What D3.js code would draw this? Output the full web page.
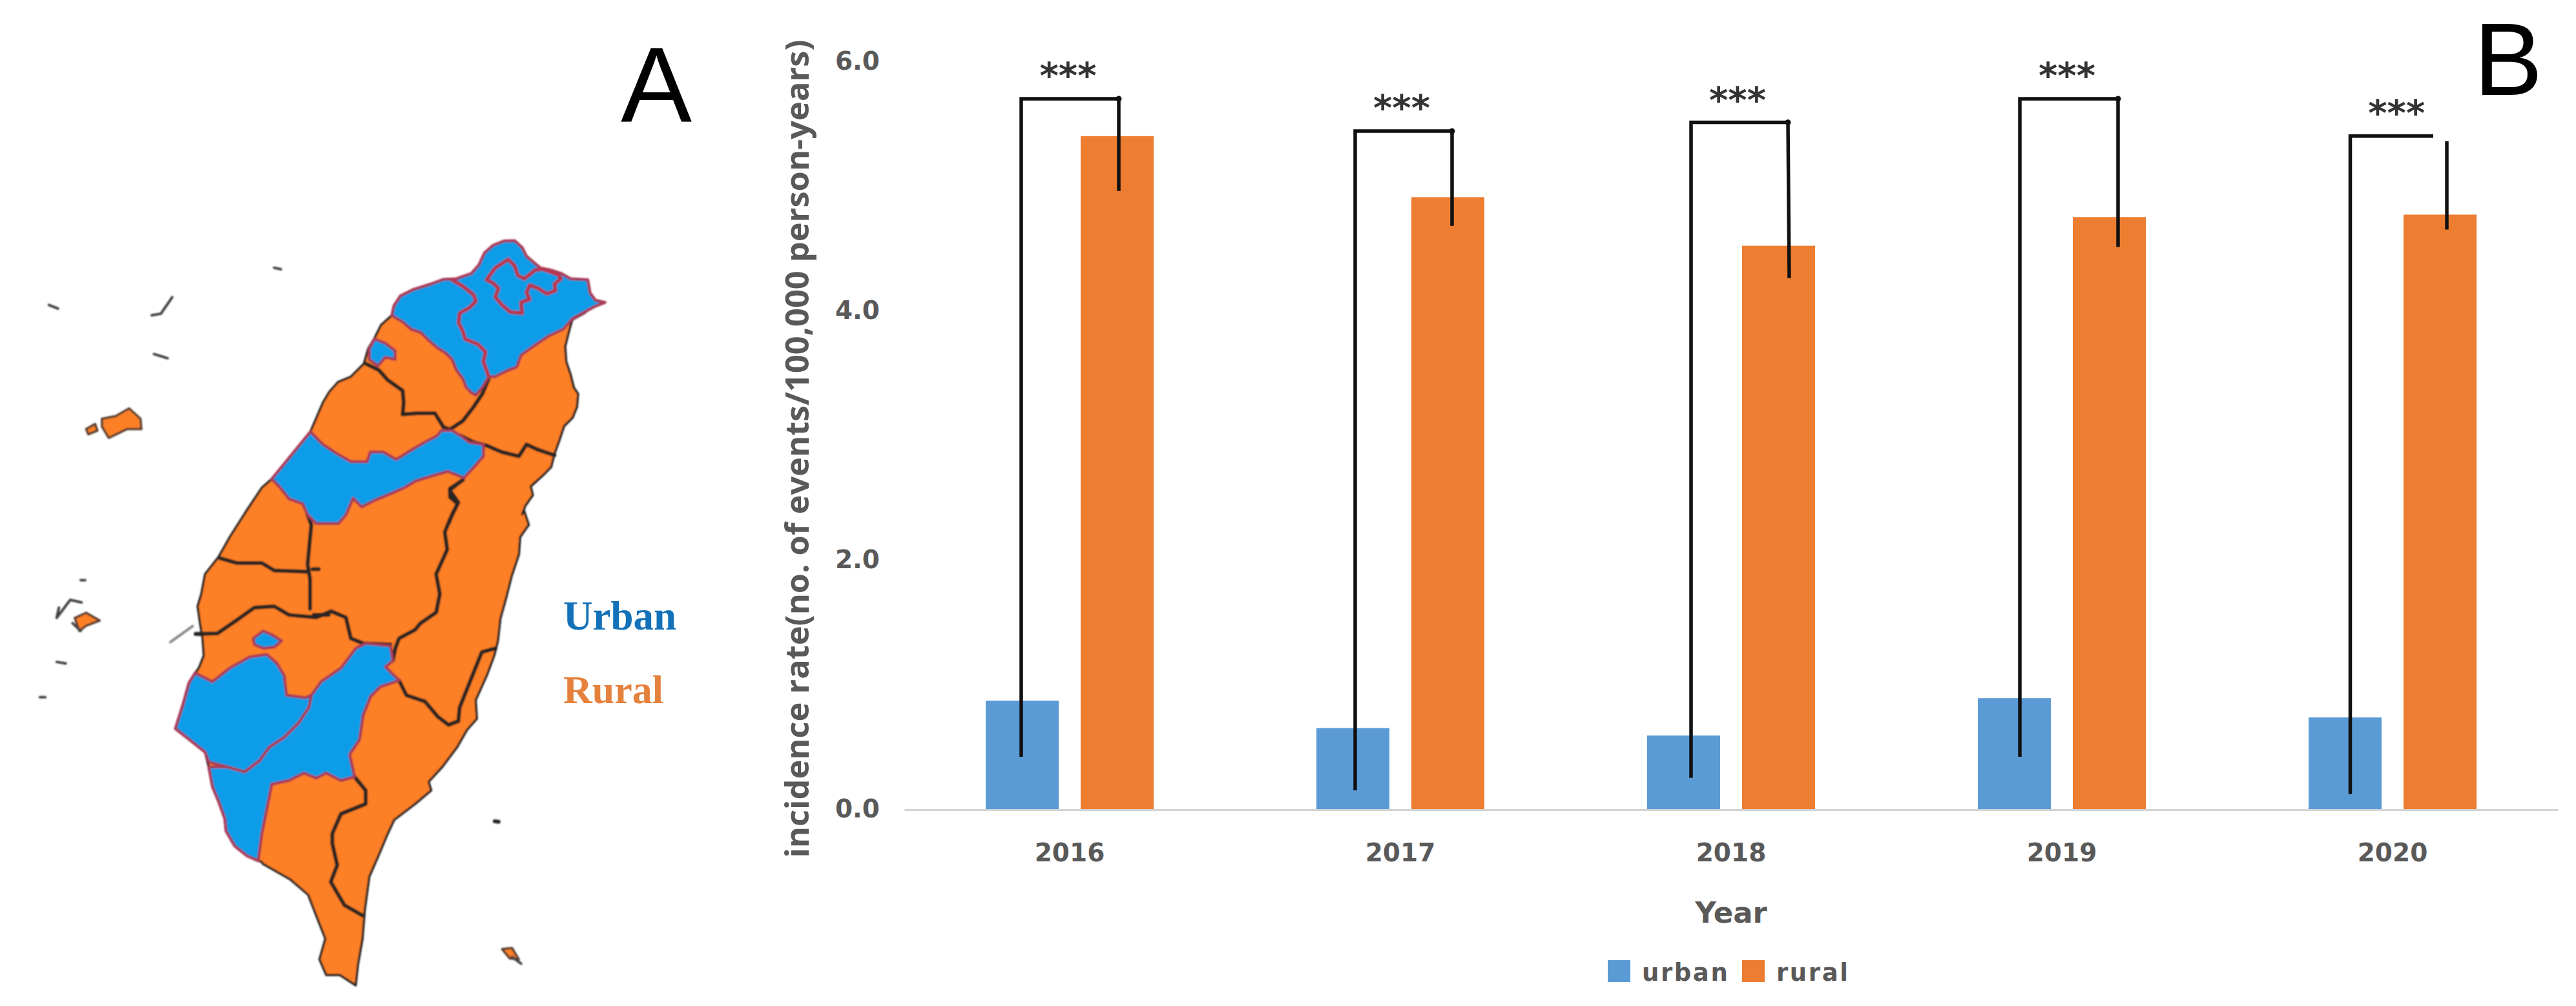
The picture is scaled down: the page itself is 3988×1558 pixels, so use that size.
<!DOCTYPE html>
<html><head><meta charset="utf-8">
<script src="https://cdn.jsdelivr.net/npm/d3@7/dist/d3.min.js"></script>
<style>html,body{margin:0;padding:0;background:#fff}svg{display:block}</style>
</head><body><svg id="c" width="3988" height="1558"></svg>
<script>
// ---- chart data ----
const years = ["2016","2017","2018","2019","2020"];
const seriesNames = ["urban","rural"];
const urbanRate = [0.87,0.65,0.59,0.89,0.735];
const ruralRate = [5.40,4.91,4.52,4.75,4.77];
const yTicks = [0,2,4,6];
const bracketTop = [5.70,5.44,5.51,5.70,5.40];
const bracketUrbanLow = [0.42,0.15,0.25,0.42,0.12];
const bracketRuralLow = [4.96,4.68,4.26,4.51,4.65];
const bracketRuralHigh = [5.70,5.44,5.51,5.70,5.36];
const starLevel = [5.95,5.69,5.75,5.95,5.65];

// ---- map outlines: three survey sheets (north, mid, whole) with their own grids ----
const coastNorth = [[330,340],[360,295],[420,265],[500,240],[560,218],[620,215],[690,190],[725,150],[750,95],[790,60],[840,40],[890,38],[925,70],[945,110],[980,140],[1010,165],[1060,175],[1105,190],[1150,215],[1230,220],[1240,280],[1265,315],[1310,325],[1260,345],[1215,370],[1160,400],[1145,450],[1125,530],[1130,600],[1150,660],[1165,720],[1185,750],[1180,810],[1160,860],[1120,900],[1100,960],[1075,1030],[1060,1090],[1020,1130],[965,1180],[975,1220],[940,1270],[925,1310]];
const coastMidEast = [[1440,130],[1460,190],[1425,240],[1420,310],[1390,400],[1370,480],[1345,570],[1335,660],[1320,720],[1290,800],[1245,900],[1250,975],[1210,1020],[1170,1090],[1110,1170],[1055,1230],[1065,1265],[1000,1320],[915,1385],[885,1450],[860,1510],[835,1568]];
const coastSouth = [[826,1298],[815,1320],[805,1385],[800,1440],[790,1490],[785,1530],[750,1510],[720,1510],[705,1480],[718,1440],[700,1400],[680,1355],[640,1325],[580,1295]];
const coastMidWest = [[380,1555],[320,1530],[270,1490],[235,1430],[230,1380],[205,1310],[180,1250],[165,1170],[150,1110],[100,1070],[30,1015],[60,920],[85,830],[110,790],[125,770],[145,720],[140,650],[130,590],[120,520],[135,470],[150,390],[205,320],[250,240],[320,130],[380,40],[420,5]];
const coastNorthWest = [[0,790],[30,740],[70,695],[130,670],[190,610],[210,540],[240,490],[270,430],[320,385]];
const blueNorth = [[320,385],[330,340],[360,295],[420,265],[500,240],[560,218],[620,215],[690,190],[725,150],[750,95],[790,60],[840,40],[890,38],[925,70],[945,110],[980,140],[1010,165],[1060,175],[1105,190],[1150,215],[1230,220],[1240,280],[1265,315],[1310,325],[1260,345],[1215,370],[1160,400],[1115,450],[1050,480],[990,520],[920,570],[900,625],[860,640],[800,670],[770,670],[740,720],[710,755],[690,745],[665,720],[650,680],[620,640],[600,590],[570,560],[530,535],[490,500],[455,465],[410,450],[370,415],[335,395]];
const taoyuanBorder = [[600,220],[650,250],[700,290],[710,320],[680,350],[635,375],[630,420],[650,460],[660,495],[720,520],[755,555],[745,600],[770,670]];
const taipeiBorder = [[760,220],[800,165],[860,125],[890,155],[905,200],[935,215],[985,175],[1020,170],[1090,195],[1105,215],[1075,240],[1080,270],[1040,285],[1000,260],[960,245],[945,280],[960,310],[920,325],[925,375],[870,370],[830,335],[800,300],[815,260],[790,235],[760,220]];
const hsinchuCity = [[215,540],[240,495],[290,515],[335,550],[335,590],[290,580],[255,620],[215,590]];
const taichungNorth = [[0,985],[60,1025],[130,1065],[205,1065],[220,1020],[280,1020],[340,1055],[420,1005],[490,965],[530,945],[550,920],[600,920],[640,945],[680,975],[745,985],[745,1040],[710,1080],[655,1140],[580,1110],[510,1130],[430,1155],[380,1185],[300,1220],[250,1240],[180,1275],[140,1235]];
const taichungMid = [[720,150],[690,185],[600,185],[565,150],[545,105],[490,85],[450,35],[420,5]];
const taichungWest = [[685,460]];
const tainan = [[110,790],[180,825],[250,770],[330,725],[400,715],[440,750],[470,800],[480,880],[520,885],[555,890],[580,880],[570,930],[530,990],[470,1050],[410,1090],[370,1145],[310,1190],[240,1170],[165,1150],[150,1110],[100,1070],[30,1015],[60,920],[85,830]];
const kaohsiung = [[800,670],[900,680],[910,740],[880,765],[935,820],[860,845],[820,885],[790,960],[775,1060],[735,1120],[755,1210],[700,1225],[640,1195],[600,1215],[550,1195],[490,1225],[420,1240],[400,1340],[380,1440],[365,1550],[320,1530],[270,1490],[235,1430],[230,1380],[205,1310],[180,1250],[165,1170],[240,1170],[310,1190],[370,1145],[410,1090],[470,1050],[530,990],[570,930],[580,880],[620,825],[700,770],[760,690]];
const chiayiCity = [[345,650],[385,620],[420,635],[460,660],[430,685],[385,690],[350,675]];
const darkNorth = [
 [[200,610],[260,640],[300,685],[370,735],[375,790],[370,845],[440,840],[520,840],[560,905],[590,915],[650,875],[700,810],[740,750],[770,680]],
 [[640,945],[700,975],[760,990],[830,1020],[910,1040],[945,985],[1000,1010],[1075,1035]],
 [[650,1150],[590,1190],[590,1230],[625,1260],[600,1310],[585,1350]],
 [[1160,400],[1215,370]]
];
const darkMid = [
 [[1190,10],[1140,50],[1175,100],[1140,170],[1120,220],[1130,290],[1085,390],[1100,470],[1085,545],[1020,590],[1000,615],[935,650],[920,690],[910,740]],
 [[565,150],[580,190],[565,350],[575,410],[575,530]],
 [[210,325],[280,345],[380,345],[430,375],[570,380]],
 [[120,632],[200,630],[280,575],[350,525],[430,520],[490,555],[600,565],[660,540],[720,565],[740,650],[790,670],[900,675]],
 [[935,820],[965,880],[1040,905],[1090,965],[1135,1000],[1175,985],[1180,930],[1240,780],[1270,705],[1325,690]],
 [[755,1210],[800,1265],[800,1320],[700,1360],[665,1440],[665,1480],[685,1568]],
 [[590,555],[650,555]],[[585,370],[610,370]],[[112,632],[140,632]],[[1322,1390],[1338,1392]]
];
const darkSouth = [[[744,1298],[730,1330],[760,1375],[800,1395]]];
const islets = [
 [[225,435],[255,430],[285,415],[310,435],[312,455],[280,455],[240,472],[225,450]],
 [[190,455],[210,445],[215,458],[195,465]],
 [[165,820],[190,810],[220,825],[190,835],[175,845]],
 [[1108,1460],[1130,1458],[1145,1480],[1125,1478]]
];
const flecks = [
 [[335,235],[355,232],[380,200]],[[1130,1475],[1150,1488]],
 [[605,143],[620,146]],[[108,215],[128,222]],[[340,310],[370,318]],[[125,905],[145,908]],
 [[88,973],[100,973]],[[178,747],[188,747]],[[130,800],[125,820],[155,785],[180,790]],[[160,830],[178,845]]
];
const grayStreak = [[10,665],[100,600]];

// ---- layout ----
const svg=d3.select("#c");
const x0=d3.scaleBand().domain(years).range([1400,3960]).padding(0);
const x1=d3.scaleBand().domain(seriesNames).range([0,x0.bandwidth()]).paddingInner(0.231).paddingOuter(0.857);
const y=d3.scaleLinear().domain([0,6]).range([1253,95]);
const color=d3.scaleOrdinal().domain(seriesNames).range(["#5b9bd5","#ed7d31"]);
const sheet=(xr,yr,xd,yd)=>{const sx=d3.scaleLinear().domain([0,xd]).range(xr),sy=d3.scaleLinear().domain([0,yd]).range(yr);return pts=>pts.map(p=>[sx(p[0]),sy(p[1])]);};
const N=sheet([500,950],[360,810],1350,1350), M=sheet([260,860],[740,1340],1568,1568), Z=sheet([0,1100],[300,1558],1568,1570);
const line=d3.line();
const GRAY="#595959",SANS="'DejaVu Sans',sans-serif";
const leftNudge=[-1.5,3.5,11.5,8.5,8], rightNudge=[2.5,6.5,14.5,13.5,10.5], topEndNudge=[2.5,6.5,14.5,13.5,-10.5];
const BLUE="#0e9ce8",ORANGE="#fd7f25",CRIMSON="#a83c58",DARK="#2c2522";

// ---- map ----
const defs=svg.append("defs");
defs.append("filter").attr("id","soft").append("feGaussianBlur").attr("stdDeviation",1.1);
const map=svg.append("g").attr("filter","url(#soft)").attr("stroke-linejoin","round").attr("stroke-linecap","round");
const coast=[...N(coastNorth),...M(coastMidEast),...Z(coastSouth),...M(coastMidWest),...Z(taichungWest),...N(coastNorthWest)];
map.append("path").attr("d",line(coast)+"Z").attr("fill",ORANGE).attr("stroke",DARK).attr("stroke-width",3.5);
const darks=[...darkNorth.map(N),...darkMid.map(M),...darkSouth.map(Z)];
map.selectAll("path.d").data(darks).join("path").attr("class","d").attr("d",line).attr("fill","none").attr("stroke",DARK).attr("stroke-width",6);
const blues=[N(blueNorth),[...N(taichungNorth),...M(taichungMid),...Z(taichungWest)],M(kaohsiung),M(tainan),N(hsinchuCity),M(chiayiCity)];
map.selectAll("path.b").data(blues).join("path").attr("class","b").attr("d",d=>line(d)+"Z").attr("fill",BLUE).attr("stroke",CRIMSON).attr("stroke-width",4.5);
map.selectAll("path.r").data([N(taoyuanBorder),N(taipeiBorder)]).join("path").attr("class","r").attr("d",line).attr("fill","none").attr("stroke","#b8374f").attr("stroke-width",6);
map.selectAll("path.i").data(islets.map(Z)).join("path").attr("class","i").attr("d",d=>line(d)+"Z").attr("fill",ORANGE).attr("stroke","#5a4030").attr("stroke-width",3.5);
map.selectAll("path.f").data(flecks.map(Z)).join("path").attr("class","f").attr("d",line).attr("fill","none").attr("stroke","#444").attr("stroke-width",4);
map.append("path").attr("d",line(M(grayStreak))).attr("fill","none").attr("stroke","#888").attr("stroke-width",4);

svg.append("text").text("Urban").attr("x",872).attr("y",975).attr("font-family","'Liberation Serif',serif").attr("font-weight",700).attr("font-size",63).attr("fill","#1271b8");
svg.append("text").text("Rural").attr("x",872).attr("y",1089).attr("font-family","'Liberation Serif',serif").attr("font-weight",700).attr("font-size",62).attr("fill","#e5813c");
svg.append("text").text("A").attr("x",1016).attr("y",188).attr("text-anchor","middle").attr("font-family","'Liberation Sans',sans-serif").attr("font-size",165).attr("fill","#000");
svg.append("text").text("B").attr("x",3883).attr("y",147).attr("text-anchor","middle").attr("font-family","'Liberation Sans',sans-serif").attr("font-size",160).attr("fill","#000");

// ---- bars ----
const rows=years.map((yr,i)=>({yr,i,urban:urbanRate[i],rural:ruralRate[i]}));
const groups=svg.selectAll("g.yr").data(rows).join("g").attr("class","yr").attr("transform",d=>`translate(${x0(d.yr)},0)`);
groups.selectAll("rect").data(d=>seriesNames.map(s=>({s,v:d[s]}))).join("rect")
  .attr("x",d=>x1(d.s)).attr("width",x1.bandwidth())
  .attr("y",d=>y(d.v)).attr("height",d=>y(0)-y(d.v)).attr("fill",d=>color(d.s));

// ---- axes ----
const xAxis=svg.append("g").attr("transform",`translate(0,${y(0)+1})`).call(d3.axisBottom(x0).tickSize(0).tickPadding(52));
xAxis.select(".domain").attr("stroke","#d4d4d4").attr("stroke-width",3);
xAxis.selectAll("text").attr("font-family",SANS).attr("font-weight",700).attr("font-size",39).attr("fill",GRAY);
const yAxis=svg.append("g").attr("transform",`translate(1362,0)`).call(d3.axisLeft(y).tickValues(yTicks).tickFormat(d3.format(".1f")).tickSize(0).tickPadding(0));
yAxis.select(".domain").remove();
yAxis.selectAll("text").attr("font-family",SANS).attr("font-weight",700).attr("font-size",39).attr("fill",GRAY);
svg.append("text").text("incidence rate(no. of events/100,000 person-years)")
  .attr("transform","translate(1252,695) rotate(-90)").attr("text-anchor","middle")
  .attr("font-family","'Open Sans',sans-serif").attr("font-weight",700).attr("font-size",50.5).attr("fill",GRAY);
svg.append("text").text("Year").attr("x",2680).attr("y",1429).attr("text-anchor","middle")
  .attr("font-family",SANS).attr("font-weight",700).attr("font-size",45).attr("fill",GRAY);

// ---- legend ----
const lg=svg.append("g").selectAll("g").data(seriesNames).join("g")
  .attr("transform",(d,i)=>`translate(${[2489,2697][i]},1487)`);
lg.append("rect").attr("width",35).attr("height",34).attr("fill",d=>color(d));
lg.append("text").text(d=>d).attr("x",53).attr("y",32).attr("font-family",SANS).attr("font-weight",700).attr("font-size",37).attr("letter-spacing",2.6).attr("fill",GRAY);

// ---- significance brackets ----
const cx=(s,i)=>x0(years[i])+x1(s)+x1.bandwidth()/2;
const br=svg.selectAll("g.br").data(years).join("g").attr("class","br").attr("fill","none").attr("stroke","#111").attr("stroke-width",5.5);
br.append("path").attr("d",(d,i)=>d3.line()([
  [cx("urban",i)+leftNudge[i],y(bracketUrbanLow[i])],
  [cx("urban",i)+leftNudge[i],y(bracketTop[i])],
  [cx("rural",i)+topEndNudge[i],y(bracketTop[i])]]));
br.append("path").attr("d",(d,i)=>d3.line()([
  [cx("rural",i)+rightNudge[i],y(bracketRuralHigh[i])],
  [cx("rural",i)+rightNudge[i]+(i==2?2:0),y(bracketRuralLow[i])]]));
br.filter((d,i)=>i<4).append("circle").attr("cx",(d,i)=>cx("rural",i)+rightNudge[i]).attr("cy",(d,i)=>y(bracketTop[i])).attr("r",4.5).attr("fill","#111").attr("stroke","none");
svg.selectAll("text.star").data(years).join("text").attr("class","star").text("***")
  .attr("x",(d,i)=>(cx("urban",i)+leftNudge[i]+cx("rural",i)+rightNudge[i])/2-3)
  .attr("y",(d,i)=>y(starLevel[i])+31).attr("text-anchor","middle")
  .attr("font-family",SANS).attr("font-weight",700).attr("font-size",56).attr("fill","#333");
</script></body></html>
